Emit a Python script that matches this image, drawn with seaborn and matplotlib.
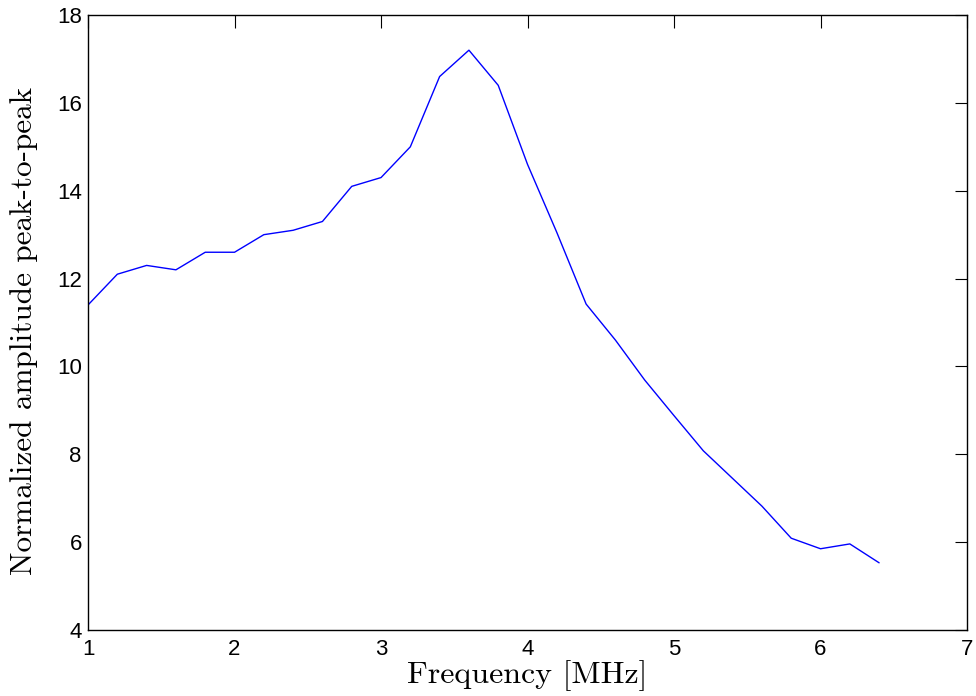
import numpy as np
import pandas as pd
import seaborn as sns
import matplotlib.pyplot as plt

# frequency sweep (MHz) and normalized peak-to-peak amplitude
freq = [1.0, 1.2, 1.4, 1.6, 1.8, 2.0, 2.2, 2.4, 2.6, 2.8, 3.0, 3.2, 3.4, 3.6,
        3.8, 4.0, 4.2, 4.4, 4.6, 4.8, 5.0, 5.2, 5.4, 5.6, 5.8, 6.0, 6.2, 6.4]
amp = [11.4, 12.1, 12.3, 12.2, 12.6, 12.6, 13.0, 13.1, 13.3, 14.1, 14.3, 15.0, 16.6, 17.2,
       16.4, 14.6, 13.05, 11.42, 10.6, 9.69, 8.88, 8.08, 7.45, 6.82, 6.09, 5.85, 5.96, 5.53]
xticks = [1, 2, 3, 4, 5, 6, 7]
yticks = [4, 6, 8, 10, 12, 14, 16, 18]

df = pd.DataFrame({'freq': freq, 'amp': amp})

sns.set_style('white')
plt.rcParams['font.family'] = ['Liberation Sans', 'DejaVu Sans']
plt.rcParams['xtick.direction'] = 'in'
plt.rcParams['ytick.direction'] = 'in'
plt.rcParams['text.color'] = 'black'
plt.rcParams['axes.labelcolor'] = 'black'

fig = plt.figure(figsize=(9.76, 6.96), dpi=100)
ax = fig.add_axes([0.0902, 0.0948, 0.9006, 0.8836])

sns.lineplot(data=df, x='freq', y='amp', ax=ax, color='#0000ff', linewidth=1.0)

ax.set_xlim(1, 7)
ax.set_ylim(4, 18)
ax.set_xticks(xticks)
ax.set_yticks(yticks)
ax.tick_params(axis='both', which='both', top=True, right=True, length=9, width=0.8,
               labelsize=16, color='black', labelcolor='black')
ax.tick_params(axis='x', pad=6.5)
ax.tick_params(axis='y', pad=4.5)
for s in ax.spines.values():
    s.set_color('black')
    s.set_linewidth(1.0)

ax.set_xlabel('Frequency [MHz]', fontfamily='cmr10', fontsize=23, labelpad=0)
ax.set_ylabel('Normalized amplitude peak-to-peak', fontfamily='cmr10', fontsize=22.5)
ax.yaxis.set_label_coords(-0.057, 0.487)

fig.savefig('out.png', dpi=100)
